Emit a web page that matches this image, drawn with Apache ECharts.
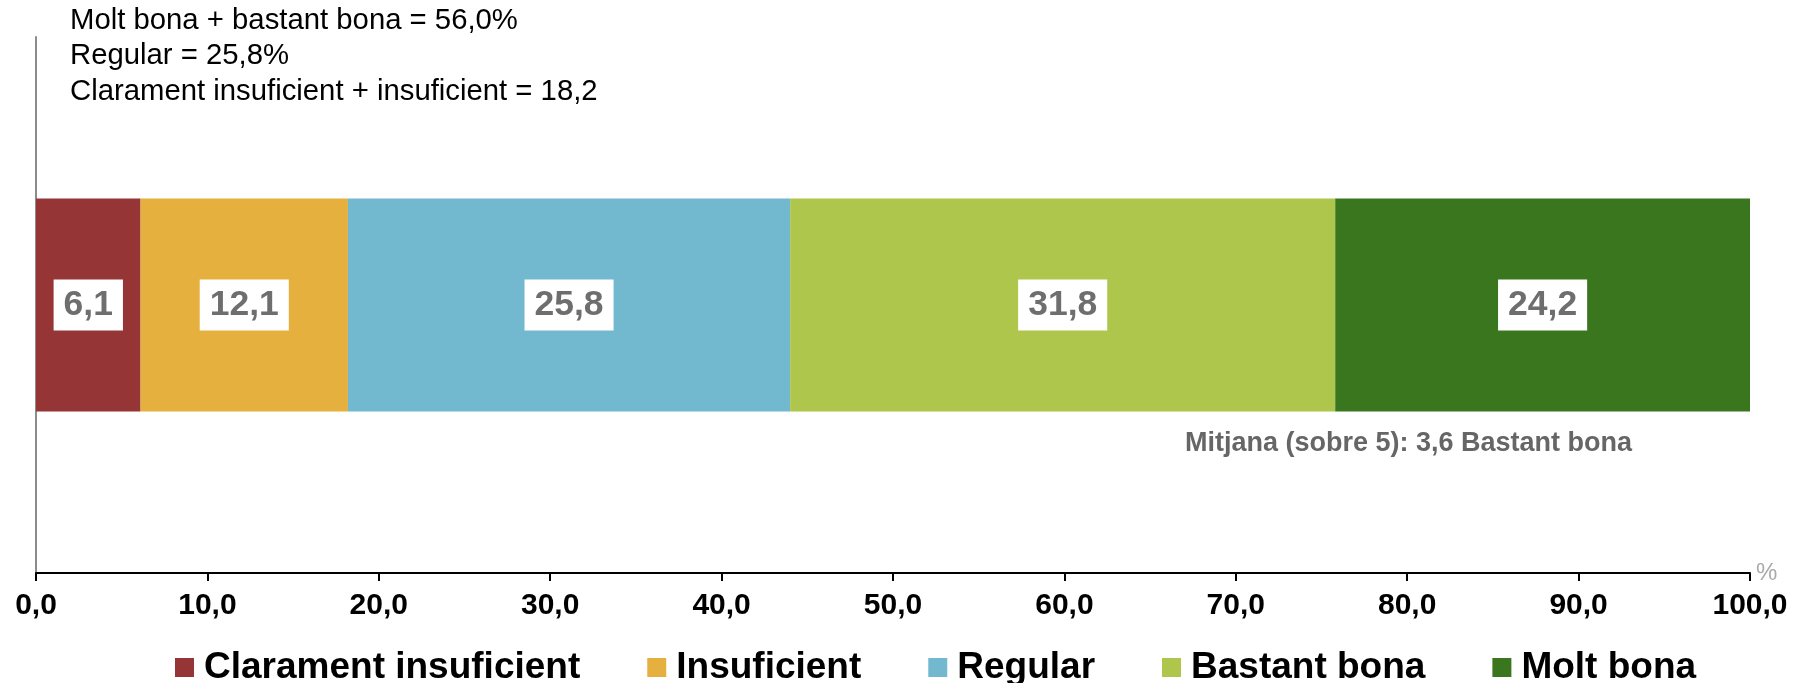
<!DOCTYPE html>
<html>
<head>
<meta charset="utf-8">
<script src="https://cdn.jsdelivr.net/npm/echarts@6/dist/echarts.min.js"></script>
<style>
  html, body { margin: 0; padding: 0; background: #fff; }
  #chart { width: 1801px; height: 683px; }
</style>
</head>
<body>
<div id="chart"></div>
<script>
// ---- data ----
const categories = ['Clarament insuficient', 'Insuficient', 'Regular', 'Bastant bona', 'Molt bona'];
const values = [6.1, 12.1, 25.8, 31.8, 24.2];
const rowLabels = [''];
const xTicks = { min: 0, max: 100, interval: 10 };
const summaryLines = [
  'Molt bona + bastant bona = 56,0%',
  'Regular = 25,8%',
  'Clarament insuficient + insuficient = 18,2'
];
const meanNote = 'Mitjana (sobre 5): 3,6 Bastant bona';
const unitLabel = '%';

// ---- styles ----
const colors = ['#953535', '#e6b03f', '#72b8cf', '#aec64b', '#3a761e'];
const FONT = "'Liberation Sans', Arial, sans-serif";
const fmt = v => v.toFixed(1).replace('.', ',');

const chart = echarts.init(document.getElementById('chart'), null, { renderer: 'canvas' });

const series = categories.map((name, i) => ({
  name: name,
  type: 'bar',
  stack: 'total',
  barWidth: 213,
  data: [values[i]],
  itemStyle: { color: colors[i] },
  label: {
    show: true,
    position: 'inside',
    formatter: p => fmt(p.value),
    backgroundColor: '#ffffff',
    padding: [8, 10, 7, 10],
    fontFamily: FONT,
    fontSize: 35.5,
    fontWeight: 'bold',
    color: '#6e6e6e'
  },
  emphasis: { disabled: true }
}));

chart.setOption({
  animation: false,
  color: colors,
  textStyle: { fontFamily: FONT },
  grid: { left: 36, right: 51, top: 37, bottom: 110, containLabel: false },
  xAxis: {
    type: 'value',
    min: xTicks.min,
    max: xTicks.max,
    interval: xTicks.interval,
    name: unitLabel,
    nameLocation: 'end',
    nameGap: 6,
    nameTextStyle: { color: '#aaaaaa', fontSize: 24, fontFamily: FONT, padding: [16, 0, 0, 0] },
    axisLine: { show: true, lineStyle: { color: '#000', width: 2 } },
    axisTick: { show: true, length: 8, lineStyle: { color: '#000', width: 2 } },
    splitLine: { show: false },
    axisLabel: {
      formatter: v => fmt(v),
      margin: 18,
      fontFamily: FONT,
      fontSize: 30,
      fontWeight: 'bold',
      color: '#000'
    }
  },
  yAxis: {
    type: 'category',
    data: rowLabels,
    axisLine: { show: true, lineStyle: { color: '#8c8c8c', width: 2 } },
    axisTick: { show: false },
    axisLabel: { show: false },
    splitLine: { show: false }
  },
  legend: {
    data: categories,
    left: 170,
    top: 644,
    icon: 'rect',
    itemWidth: 19,
    itemHeight: 19,
    itemGap: 67,
    textStyle: {
      fontFamily: FONT,
      fontSize: 37,
      fontWeight: 'bold',
      color: '#000',
      padding: [0, 0, 0, 5]
    },
    selectedMode: false
  },
  graphic: [
    {
      type: 'text',
      left: 70,
      top: 3,
      style: {
        text: summaryLines.join('\n'),
        fontFamily: FONT,
        fontSize: 29.3,
        lineHeight: 35.5,
        fill: '#000'
      }
    },
    {
      type: 'text',
      right: 169,
      top: 430,
      style: {
        text: meanNote,
        fontFamily: FONT,
        fontSize: 27,
        fontWeight: 'bold',
        fill: '#666666'
      }
    }
  ],
  series: series
});
</script>
</body>
</html>
